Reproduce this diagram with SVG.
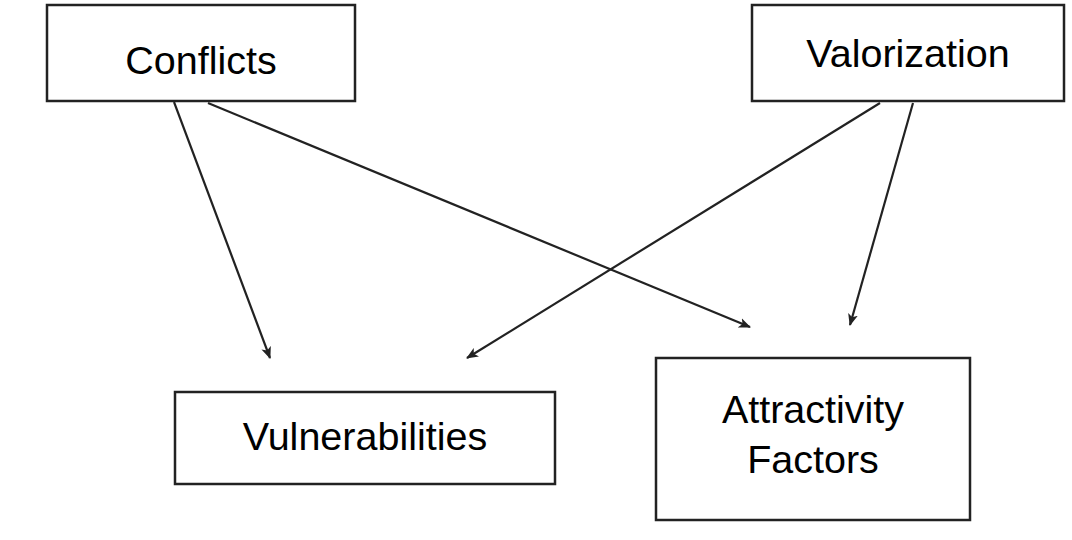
<svg xmlns="http://www.w3.org/2000/svg" width="1072" height="540" viewBox="0 0 1072 540">
<defs>
<style>
.box{fill:#fff;stroke:#222;stroke-width:2.5}
.lbl{font-family:"Liberation Sans",Arial,sans-serif;font-size:39.5px;fill:#000;text-anchor:middle}
.edge{stroke:#222;stroke-width:2.2;fill:none;marker-end:url(#ah)}
</style>
<marker id="ah" viewBox="0 0 12 10" refX="11" refY="5" markerWidth="12" markerHeight="10" markerUnits="userSpaceOnUse" orient="auto">
<path d="M0,0 L12,5 L0,10 L3,5 Z" fill="#222"/>
</marker>
</defs>
<rect width="1072" height="540" fill="#fff"/>
<g id="connectors">
<line class="edge" x1="174" y1="102" x2="270" y2="358"/>
<line class="edge" x1="208" y1="103" x2="750" y2="327"/>
<line class="edge" x1="880" y1="103" x2="467" y2="358"/>
<line class="edge" x1="913" y1="103" x2="850" y2="325"/>
</g>
<g id="conflicts">
<rect class="box" x="47" y="5" width="308" height="96"/>
<text class="lbl" x="201" y="74">Conflicts</text>
</g>
<g id="valorization">
<rect class="box" x="752" y="5" width="312" height="96"/>
<text class="lbl" x="908" y="67">Valorization</text>
</g>
<g id="vulnerabilities">
<rect class="box" x="175" y="392" width="380" height="92"/>
<text class="lbl" x="365" y="450">Vulnerabilities</text>
</g>
<g id="attractivity">
<rect class="box" x="656" y="358" width="314" height="162"/>
<text class="lbl" x="813" y="423">Attractivity</text>
<text class="lbl" x="813" y="473">Factors</text>
</g>
</svg>
